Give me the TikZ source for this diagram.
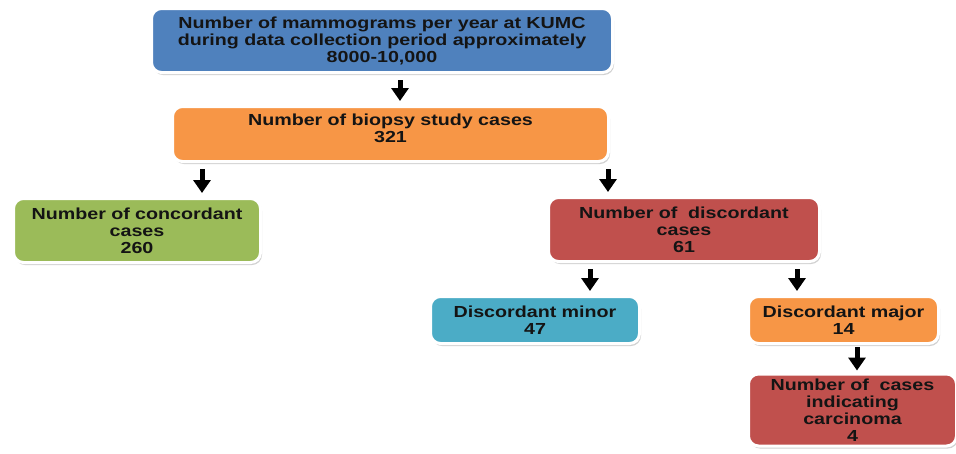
\documentclass[tikz,border=0pt]{standalone}
\usepackage{fontspec}
\setmainfont{Liberation Sans}[FakeStretch=1.23]
\usetikzlibrary{arrows.meta,shadows}

\definecolor{offblue}{HTML}{4F81BD}
\definecolor{offorange}{HTML}{F79646}
\definecolor{offgreen}{HTML}{9BBB59}
\definecolor{offred}{HTML}{C0504D}
\definecolor{offteal}{HTML}{4BACC6}
\definecolor{inktext}{HTML}{141414}

\tikzset{
  box/.style={rectangle, rounded corners=10pt, draw=white, line width=3pt,
    inner sep=0pt, align=center, text=inktext,
    font=\fontsize{16}{17}\selectfont\bfseries,
    drop shadow={shadow xshift=1.5pt, shadow yshift=-2.5pt, fill=black!45, opacity=0.4}},
  arr/.style={line width=5pt, -{Triangle[width=17pt,length=13pt]},
    shorten <=6pt, shorten >=4pt}
}

\begin{document}
\begin{tikzpicture}[x=1pt,y=-1pt]
\useasboundingbox (0,0) rectangle (956,453);

% flowchart boxes
\node[box, fill=offblue, minimum width=461, minimum height=64, text width=450] (b1) at (382,40.5)
  {Number of mammograms per year at KUMC\\during data collection period approximately\\8000-10,000};
\node[box, fill=offorange, minimum width=436, minimum height=55, text width=420,
      text height=12pt, text depth=29pt] (b2) at (390.5,134)
  {Number of biopsy study cases\\321};
\node[box, fill=offgreen, minimum width=247, minimum height=64, text width=236] (b3) at (137,230.5)
  {Number of concordant\\cases\\260};
\node[box, fill=offred, minimum width=271, minimum height=64, text width=260] (b4) at (684,229.5)
  {Number of~ discordant\\cases\\61};
\node[box, fill=offteal, minimum width=209, minimum height=47, text width=200] (b5) at (535,320)
  {Discordant minor\\47};
\node[box, fill=offorange, minimum width=190, minimum height=47, text width=182] (b6) at (843.5,320)
  {Discordant major\\14};
\node[box, fill=offred, minimum width=208, minimum height=72, text width=200] (b7) at (852.5,410)
  {Number of~ cases\\indicating\\carcinoma\\4};

% arrow columns
\coordinate (a1) at (400,0);
\coordinate (a2) at (202,0);
\coordinate (a3) at (608,0);
\coordinate (a4) at (590,0);
\coordinate (a5) at (797,0);
\coordinate (a6) at (857,0);

\draw[arr] (b1.south -| a1) -- (b2.north -| a1);
\draw[arr] (b2.south -| a2) -- (b3.north -| a2);
\draw[arr] (b2.south -| a3) -- (b4.north -| a3);
\draw[arr] (b4.south -| a4) -- (b5.north -| a4);
\draw[arr] (b4.south -| a5) -- (b6.north -| a5);
\draw[arr, shorten <=2pt, shorten >=2pt] (b6.south -| a6) -- (b7.north -| a6);
\end{tikzpicture}
\end{document}
